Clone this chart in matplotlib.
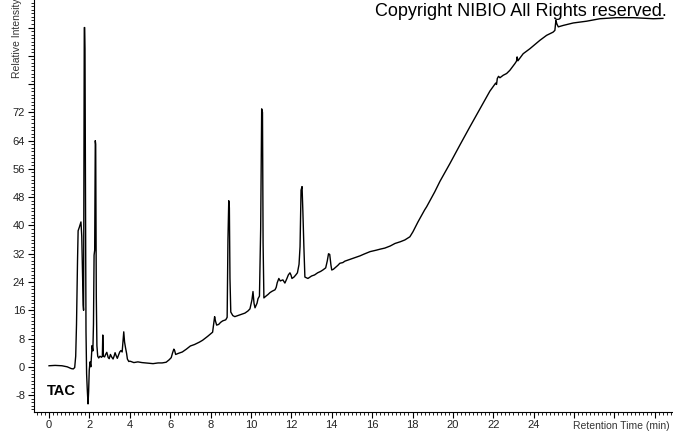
import matplotlib
matplotlib.use("Agg")
import matplotlib.pyplot as plt
from matplotlib.ticker import MultipleLocator

# chromatogram trace (min, relative intensity)
rt = [0.0, 0.3, 0.64, 0.9, 1.1, 1.2, 1.27, 1.32, 1.36, 1.41, 1.44, 1.5, 1.55, 1.58,
      1.62, 1.66, 1.69, 1.71, 1.73, 1.745, 1.765, 1.78, 1.79, 1.81, 1.83, 1.86, 1.89,
      1.93, 1.96, 1.99, 2.03, 2.07, 2.1, 2.13, 2.17, 2.2, 2.23, 2.26, 2.29, 2.31, 2.34,
      2.37, 2.41, 2.46, 2.52, 2.6, 2.64, 2.66, 2.69, 2.75, 2.8, 2.86, 2.93, 2.98, 3.04,
      3.1, 3.17, 3.22, 3.27, 3.32, 3.38, 3.44, 3.5, 3.56, 3.62, 3.66, 3.7, 3.74, 3.79,
      3.84, 3.88, 3.95, 4.0, 4.06, 4.2, 4.4, 4.6, 4.8, 5.0, 5.15, 5.4, 5.6, 5.8, 5.95,
      6.05, 6.12, 6.18, 6.22, 6.27, 6.4, 6.6, 6.8, 7.0, 7.2, 7.45, 7.6, 7.85, 8.0, 8.1,
      8.15, 8.2, 8.24, 8.3, 8.4, 8.5, 8.6, 8.75, 8.82, 8.86, 8.9, 8.93, 8.96, 9.0, 9.1,
      9.2, 9.35, 9.5, 9.7, 9.85, 9.95, 10.05, 10.1, 10.15, 10.2, 10.3, 10.35, 10.42,
      10.48, 10.53, 10.57, 10.6, 10.64, 10.74, 10.85, 10.94, 11.05, 11.19, 11.25, 11.3,
      11.38, 11.45, 11.58, 11.68, 11.78, 11.85, 11.93, 11.98, 12.03, 12.13, 12.22, 12.3,
      12.38, 12.43, 12.48, 12.53, 12.57, 12.62, 12.67, 12.82, 13.0, 13.15, 13.3, 13.45,
      13.56, 13.7, 13.78, 13.84, 13.9, 13.96, 14.0, 14.08, 14.16, 14.3, 14.4, 14.55,
      14.65, 14.8, 15.0, 15.15, 15.4, 15.6, 15.9, 16.2, 16.4, 16.63, 16.9, 17.13, 17.4,
      17.62, 17.87, 18.02, 18.27, 18.6, 18.7, 19.1, 19.36, 19.85, 20.35, 20.84, 21.34,
      21.83, 22.12, 22.16, 22.2, 22.26, 22.33, 22.49, 22.66, 22.82, 23.07, 23.15, 23.18,
      23.22, 23.3, 23.48, 23.81, 24.31, 24.64, 24.96, 25.05, 25.1, 25.15, 25.22, 25.46,
      25.96, 26.62, 27.28, 28.1, 28.93, 29.92, 30.4]
intensity = [0.3, 0.4, 0.3, 0.0, -0.5, -0.6, -0.2, 3, 12, 30, 38.5, 39.5, 40.5, 41,
             37, 25, 17.5, 16, 60, 96, 96, 90, 70, 40, 10, -2, -6,
             -10.5, -7, -1, 1.4, 0, 3, 6, 4.5, 12, 31.6, 33, 64, 63, 20,
             6, 3, 2.5, 3, 2.7, 3, 9, 3, 2.8, 3.5, 4.1, 2.6, 2.3, 3.5,
             2.8, 2.2, 3.0, 4.0, 3.2, 2.4, 3.3, 4.2, 4.6, 4.2, 7.2, 9.9, 7, 5.3,
             3.8, 2.2, 1.5, 1.6, 1.5, 1.2, 1.4, 1.2, 1.1, 1.0, 0.9, 1.1, 1.1, 1.3, 2.0,
             2.6, 4.0, 5.0, 4.6, 3.5, 3.8, 4.2, 5.0, 5.9, 6.3, 7.0, 7.5, 8.6, 9.3, 9.8,
             12, 14.2, 13, 11.8, 12.0, 12.6, 13.0, 13.3, 14, 36, 47, 45, 25, 15.5, 14.5,
             14.2, 14.5, 14.8, 15.2, 15.8, 16.4, 19, 21.3, 18, 16.7, 18, 19.3, 20,
             39, 73, 72, 35, 19.5, 20, 20.5, 21, 21.4, 21.8, 22.5, 23.8,
             25, 24.3, 24.6, 23.7, 25, 26, 26.6, 26.0, 25, 25.4, 26, 26.6,
             29, 34, 50, 51, 44, 34, 25.4, 25, 25.7, 26, 26.6, 27,
             27.4, 28, 30, 32, 31.8, 28.8, 27.4, 27.6, 28, 28.7, 29.3, 29.5,
             29.9, 30.2, 30.6, 30.9, 31.4, 31.9, 32.6, 33.0, 33.3, 33.6, 34.2, 34.9, 35.4,
             35.9, 36.8, 38.2, 41, 44.4, 45.3, 49.5, 52.5, 57.5, 62.8, 67.9, 73.0,
             78.0, 80.3, 79.9, 81.6, 82.2, 81.8, 82.5, 83, 83.9, 85.8, 86.5, 87.7,
             86.6, 87.2, 88.6, 90, 92.4, 93.8, 94.7, 95.2, 98, 97, 96.2, 96.6,
             97.3, 97.8, 98.5, 98.8, 98.8, 98.5, 98.6]

x_major = list(range(0, 31, 2))
x_labels = [str(v) if v <= 24 else "" for v in x_major]
y_major = list(range(-8, 97, 8))
y_labels = [str(v) if v <= 72 else "" for v in y_major]

plt.rcParams['font.family'] = ['Liberation Sans', 'DejaVu Sans']

fig = plt.figure(figsize=(6.73, 4.33), dpi=100)
ax = fig.add_axes([33.5 / 673, 21.3 / 433, 1 - 33.5 / 673, 411.7 / 433])

ax.plot(rt, intensity, color='black', lw=1.0)

ax.set_xlim(-0.77, 30.9)
ax.set_ylim(-12.7, 103.8)

ax.set_xticks(x_major)
ax.set_xticklabels(x_labels)
ax.set_yticks(y_major)
ax.set_yticklabels(y_labels)
ax.xaxis.set_minor_locator(MultipleLocator(0.2))
ax.yaxis.set_minor_locator(MultipleLocator(1))
ax.tick_params(which='major', direction='out', length=4, width=0.8,
               labelsize=8, labelcolor='#222222', pad=2)
ax.tick_params(which='minor', direction='out', length=2, width=0.6)

for side in ('top', 'right'):
    ax.spines[side].set_visible(False)
for side in ('left', 'bottom'):
    ax.spines[side].set_linewidth(0.8)

ax.text(-0.1, -6.8, "TAC", fontsize=10.5, fontweight='bold', va='center', ha='left')

# the axis label runs past the top edge, as in the reference
fig.text(17 / 673, 1 - 78 / 433, "Relative Intensity", rotation=90,
         ha='center', va='bottom', fontsize=7.5, color='#333333')
fig.text(670 / 673, 1 - 426 / 433, "Retention Time (min)", ha='right', va='center',
         fontsize=7.5, color='#333333')
fig.text(667 / 673, 1 - 16 / 433, "Copyright NIBIO All Rights reserved.",
         ha='right', va='baseline', fontsize=13, color='black')

fig.savefig("out.png", dpi=100)
